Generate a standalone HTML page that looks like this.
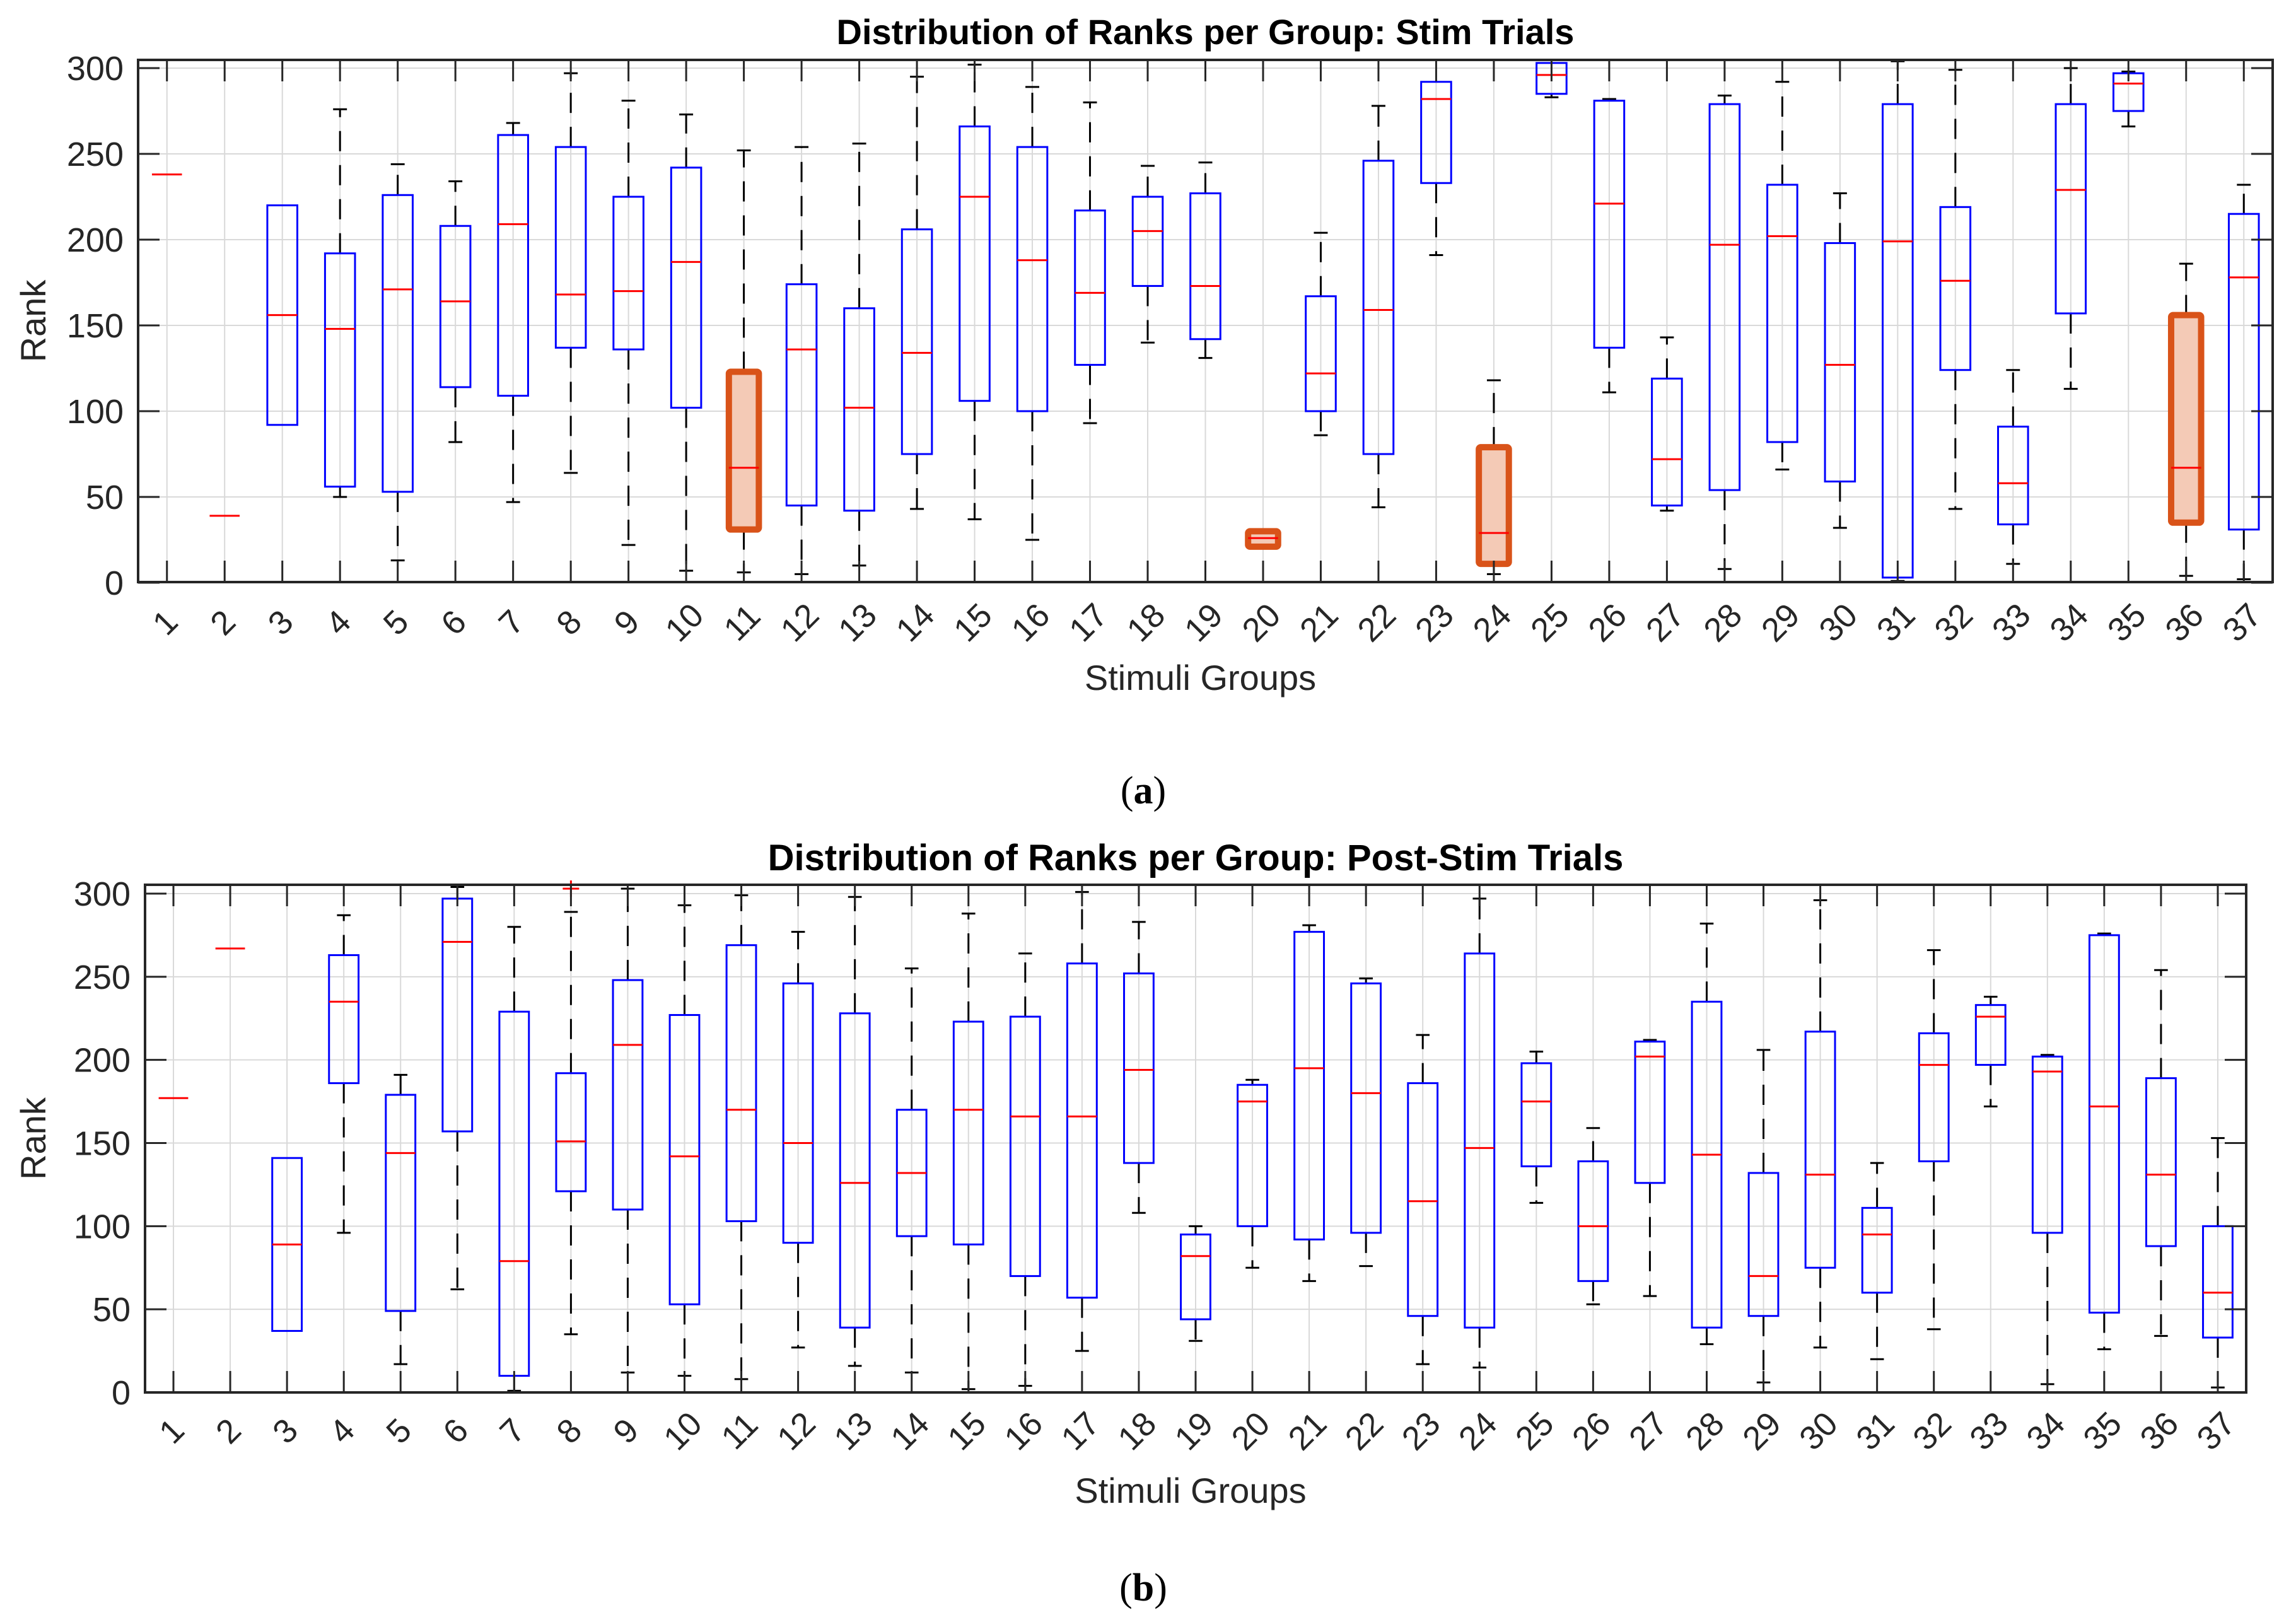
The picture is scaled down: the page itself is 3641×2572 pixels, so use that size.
<!DOCTYPE html>
<html><head><meta charset="utf-8"><style>
html,body{margin:0;padding:0;background:#fff;}
svg{display:block;font-family:"Liberation Sans",sans-serif;}
</style></head>
<body>
<svg id="fig" width="3641" height="2572" viewBox="0 0 3641 2572" xmlns="http://www.w3.org/2000/svg"></svg>
<script>
// ---- Panel (a): Stim trials ----
const groupsA = [1,2,3,4,5,6,7,8,9,10,11,12,13,14,15,16,17,18,19,20,21,22,23,24,25,26,27,28,29,30,31,32,33,34,35,36,37];
const loA  = [238,39,92,50,13,82,47,64,22,7,6,5,10,43,37,25,93,140,131,20,86,44,191,5,283,111,42,8,66,32,1,43,11,113,266,4,2];
const q1A  = [238,39,92,56,53,114,109,137,136,102,31,45,42,75,106,100,127,173,142,21,100,75,233,11,285,137,45,54,82,59,3,124,34,157,275,35,31];
const medA = [238,39,156,148,171,164,209,168,170,187,67,136,102,134,225,188,169,205,173,26,122,159,282,29,296,221,72,197,202,127,199,176,58,229,291,67,178];
const q3A  = [238,39,220,192,226,208,261,254,225,242,123,174,160,206,266,254,217,225,227,30,167,246,292,79,303,281,119,279,232,198,279,219,91,279,297,156,215];
const hiA  = [238,39,220,276,244,234,268,297,281,273,252,254,256,295,302,289,280,243,245,31,204,278,292,118,303,282,143,284,292,227,304,299,124,300,298,186,232];
const highlightA = [11,20,24,36];
const outA = [];
// ---- Panel (b): Post-Stim trials ----
const groupsB = [1,2,3,4,5,6,7,8,9,10,11,12,13,14,15,16,17,18,19,20,21,22,23,24,25,26,27,28,29,30,31,32,33,34,35,36,37];
const loB  = [177,267,37,96,17,62,1,35,12,10,8,27,16,12,2,4,25,108,31,75,67,76,17,15,114,53,58,29,6,27,20,38,172,5,26,34,3];
const q1B  = [177,267,37,186,49,157,10,121,110,53,103,90,39,94,89,70,57,138,44,100,92,96,46,39,136,67,126,39,46,75,60,139,197,96,48,88,33];
const medB = [177,267,89,235,144,271,79,151,209,142,170,150,126,132,170,166,166,194,82,175,195,180,115,147,175,100,202,143,70,131,95,197,226,193,172,131,60];
const q3B  = [177,267,141,263,179,297,229,192,248,227,269,246,228,170,223,226,258,252,95,185,277,246,186,264,198,139,211,235,132,217,111,216,233,202,275,189,100];
const hiB  = [177,267,141,287,191,304,280,289,303,293,299,277,298,255,288,264,301,283,100,188,281,249,215,297,205,159,212,282,206,296,138,266,238,203,276,254,153];
const highlightB = [];
const outB = [[8,303]];
const yTicks = [0,50,100,150,200,250,300];

const NS = "http://www.w3.org/2000/svg";
const svg = document.getElementById('fig');
function mk(tag, attrs, parent){
  const e = document.createElementNS(NS, tag);
  for (const k in attrs) e.setAttribute(k, attrs[k]);
  (parent||svg).appendChild(e);
  return e;
}

function panel(cfg){
  const {L,R,T,B,y300,y0,groups,lo,q1,med,q3,hi,hl,outs,title,titleY,titleSize,xlabY,tickLabY,yLabRight,tag} = cfg;
  const g = mk('g',{});
  
  
  const n = groups.length;
  const sx = v => L + (v-0.5)*(R-L)/n;
  const sy = v => y0 - v*(y0-y300)/300;
  const step = (R-L)/n;
  const grid = mk('g',{},g);
  
  
  groups.forEach(c=>{ mk('line',{x1:sx(c),x2:sx(c),y1:T,y2:B,stroke:'#d9d9d9','stroke-width':2},grid); });
  yTicks.forEach(t=>{ mk('line',{x1:L,x2:R,y1:sy(t),y2:sy(t),stroke:'#d9d9d9','stroke-width':2},grid); });
  groups.forEach((c,i)=>{
    const bg = mk('g',{},g);
    
    
    const x = sx(c), hw = step*0.26, cw = step*0.12;
    const isH = hl.indexOf(c)>=0;
    if (hi[i] > q3[i]) {
      mk('line',{x1:x,x2:x,y1:sy(q3[i]),y2:sy(hi[i]),stroke:'#000','stroke-width':3,'stroke-dasharray':'32,22'},bg);
      mk('line',{x1:x-cw,x2:x+cw,y1:sy(hi[i]),y2:sy(hi[i]),stroke:'#000','stroke-width':3},bg);
    }
    if (lo[i] < q1[i]) {
      mk('line',{x1:x,x2:x,y1:sy(q1[i]),y2:sy(lo[i]),stroke:'#000','stroke-width':3,'stroke-dasharray':'32,22'},bg);
      mk('line',{x1:x-cw,x2:x+cw,y1:sy(lo[i]),y2:sy(lo[i]),stroke:'#000','stroke-width':3},bg);
    }
    if (q3[i] > q1[i]) {
      if (isH) {
        mk('rect',{x:x-hw,y:sy(q3[i]),width:2*hw,height:sy(q1[i])-sy(q3[i]),fill:'#f4cab6',stroke:'#d95319','stroke-width':10,rx:3},bg);
      } else {
        mk('rect',{x:x-hw,y:sy(q3[i]),width:2*hw,height:sy(q1[i])-sy(q3[i]),fill:'none',stroke:'#0000ff','stroke-width':3},bg);
      }
    }
    mk('line',{x1:x-hw,x2:x+hw,y1:sy(med[i]),y2:sy(med[i]),stroke:'#ff0000','stroke-width':3},bg);
  });
  outs.forEach(o=>{
    const x = sx(o[0]), y = sy(o[1]);
    const p = mk('path',{d:`M${x-13},${y}H${x+13}M${x},${y-13}V${y+13}`,stroke:'#ff0000','stroke-width':3},g);
    
    
  });
  const ax = mk('g',{},g);
  
  
  mk('rect',{x:L,y:T,width:R-L,height:B-T,fill:'none',stroke:'#262626','stroke-width':4},ax);
  groups.forEach(c=>{
    mk('line',{x1:sx(c),x2:sx(c),y1:B,y2:B-34,stroke:'#262626','stroke-width':3},ax);
    mk('line',{x1:sx(c),x2:sx(c),y1:T,y2:T+34,stroke:'#262626','stroke-width':3},ax);
    const t = mk('text',{x:sx(c),y:tickLabY,'font-size':53,fill:'#262626','text-anchor':'middle','dominant-baseline':'middle',transform:`rotate(-45 ${sx(c)} ${tickLabY})`},ax);
    
    
    t.textContent = c;
  });
  yTicks.forEach(v=>{
    mk('line',{x1:L,x2:L+34,y1:sy(v),y2:sy(v),stroke:'#262626','stroke-width':3},ax);
    mk('line',{x1:R,x2:R-34,y1:sy(v),y2:sy(v),stroke:'#262626','stroke-width':3},ax);
    const t = mk('text',{x:yLabRight,y:sy(v)+19,'font-size':54,fill:'#262626','text-anchor':'end'},ax);
    
    
    t.textContent = v;
  });
  const tt = mk('text',{x:(L+R)/2,y:titleY,'font-size':titleSize,'font-weight':'bold',fill:'#000','text-anchor':'middle'},g);
  
  
  tt.textContent = title;
  const xl = mk('text',{x:(L+R)/2 - 8,y:xlabY,'font-size':56,fill:'#262626','text-anchor':'middle'},g);
  
  
  xl.textContent = 'Stimuli Groups';
  const ym = (T+B)/2;
  const yl = mk('text',{x:72,y:ym,'font-size':56,fill:'#262626','text-anchor':'middle',transform:`rotate(-90 72 ${ym})`},g);
  
  
  yl.textContent = 'Rank';
}

panel({L:219,R:3604,T:95,B:923,y300:108,y0:924,groups:groupsA,lo:loA,q1:q1A,med:medA,q3:q3A,hi:hiA,hl:highlightA,outs:outA,
  title:'Distribution of Ranks per Group: Stim Trials',titleY:70,titleSize:56,xlabY:1094,tickLabY:990,yLabRight:196,tag:'stim'});
panel({L:230,R:3562,T:1403,B:2208,y300:1417,y0:2208,groups:groupsB,lo:loB,q1:q1B,med:medB,q3:q3B,hi:hiB,hl:highlightB,outs:outB,
  title:'Distribution of Ranks per Group: Post-Stim Trials',titleY:1380,titleSize:58,xlabY:2383,tickLabY:2272,yLabRight:207,tag:'poststim'});

function caption(txt, y, name){
  const t = mk('text',{x:1813,y:y,'font-size':62,fill:'#000','text-anchor':'middle','font-family':'"Liberation Serif",serif'});
  
  
  t.innerHTML = '(<tspan font-weight="bold">'+txt+'</tspan>)';
}
caption('a', 1274, 'caption-a');
caption('b', 2538, 'caption-b');
</script>
</body></html>
